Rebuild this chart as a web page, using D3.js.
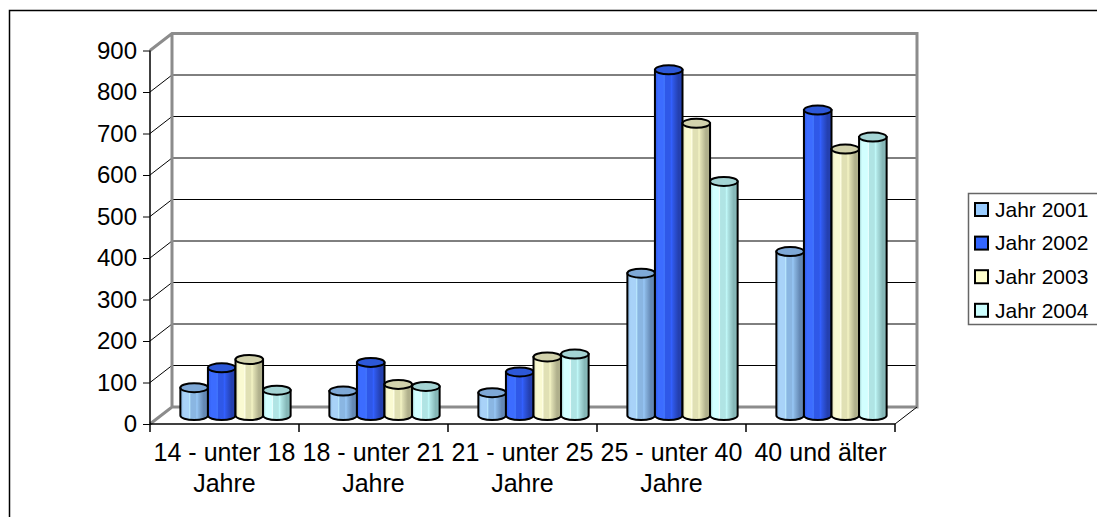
<!DOCTYPE html>
<html>
<head>
<meta charset="utf-8">
<script src="https://cdn.jsdelivr.net/npm/d3@7/dist/d3.min.js"></script>
<style>
  body { margin: 0; background: #fff; }
  svg text { font-family: "Liberation Sans", Arial, sans-serif; fill: #000; }
</style>
</head>
<body>
<div id="chart"></div>
<script>
let categories = [
    ["14 - unter 18", "Jahre"],
    ["18 - unter 21", "Jahre"],
    ["21 - unter 25", "Jahre"],
    ["25 - unter 40", "Jahre"],
    ["40 und älter"]
];
let series_names = ["Jahr 2001", "Jahr 2002", "Jahr 2003", "Jahr 2004"];
let jahr_2001 = [67, 59, 55, 343, 395];
let jahr_2002 = [115, 128, 105, 833, 736];
let jahr_2003 = [135, 75, 141, 704, 642];
let jahr_2004 = [61, 70, 148, 564, 671];
let y_ticks = [0, 100, 200, 300, 400, 500, 600, 700, 800, 900];

let all_values = [jahr_2001, jahr_2002, jahr_2003, jahr_2004];

// colors: [left light, mid, right dark, top]
let color_map = {
    "Jahr 2001": ["#a8d2f8", "#8ab6e2", "#6488b4", "#7ea8d6"],
    "Jahr 2002": ["#3c6cff", "#2f58e8", "#2440b0", "#2d58d8"],
    "Jahr 2003": ["#fafad2", "#e0e0b4", "#b0b08c", "#d2d2ac"],
    "Jahr 2004": ["#d2ffff", "#b0e4e4", "#86b8b8", "#a4d4d4"]
};
let legend_fill = {
    "Jahr 2001": "#99ccff",
    "Jahr 2002": "#3366ff",
    "Jahr 2003": "#ffffcc",
    "Jahr 2004": "#ccffff"
};

let width = 1097;
let height = 517;

let depth_x = 22;
let depth_y = 17;

let svg = d3.select("#chart")
    .append("svg")
    .attr("width", width)
    .attr("height", height);

// outer border
svg.append("rect")
    .attr("x", 9.5)
    .attr("y", 10.5)
    .attr("width", 1100)
    .attr("height", 520)
    .attr("fill", "#fff")
    .attr("stroke", "#000")
    .attr("stroke-width", 1.5);

let xScale = d3.scaleBand()
    .domain(d3.range(categories.length))
    .range([150, 895])
    .paddingInner(0)
    .paddingOuter(0);

let yScale = d3.scaleLinear()
    .domain([0, 900])
    .range([424, 50.5]);

let x_left = xScale.range()[0];
let x_right = xScale.range()[1];
let y_bottom = yScale(0);
let y_top = yScale(900);

let walls = svg.append("g");

// gridlines on back wall and side wall
for (let t of y_ticks) {
    if (t == 0 || t == 900) continue;
    walls.append("line")
        .attr("x1", x_left + depth_x)
        .attr("x2", x_right + depth_x)
        .attr("y1", yScale(t) - depth_y)
        .attr("y2", yScale(t) - depth_y)
        .attr("stroke", "#000")
        .attr("stroke-width", 1);
    walls.append("line")
        .attr("x1", x_left)
        .attr("x2", x_left + depth_x)
        .attr("y1", yScale(t))
        .attr("y2", yScale(t) - depth_y)
        .attr("stroke", "#000")
        .attr("stroke-width", 1);
}

// wall edges (gray)
let wall_edge = "M" + x_left + "," + y_top +
    " L" + (x_left + depth_x) + "," + (y_top - depth_y) +
    " L" + (x_right + depth_x) + "," + (y_top - depth_y) +
    " L" + (x_right + depth_x) + "," + (y_bottom - depth_y) +
    " L" + (x_left + depth_x) + "," + (y_bottom - depth_y) +
    " L" + x_left + "," + y_bottom +
    " M" + (x_left + depth_x) + "," + (y_top - depth_y) +
    " L" + (x_left + depth_x) + "," + (y_bottom - depth_y);
walls.append("path")
    .attr("d", wall_edge)
    .attr("fill", "none")
    .attr("stroke", "#8c8c8c")
    .attr("stroke-width", 3)
    .attr("stroke-linejoin", "miter");

// right floor edge
walls.append("line")
    .attr("x1", x_right)
    .attr("x2", x_right + depth_x)
    .attr("y1", y_bottom)
    .attr("y2", y_bottom - depth_y)
    .attr("stroke", "#000")
    .attr("stroke-width", 1);

// axes
let y_axis = svg.append("g")
    .attr("transform", "translate(" + x_left + ",0)")
    .call(d3.axisLeft(yScale).tickValues(y_ticks).tickSize(7).tickPadding(6).tickFormat(d3.format("d")));
y_axis.select(".domain").attr("stroke", "#000").attr("stroke-width", 1.5).attr("d", "M0," + y_top + "V" + y_bottom);
y_axis.selectAll("text")
    .style("font-family", "'Liberation Sans', Arial, sans-serif")
    .style("font-size", "24px");

let x_axis = svg.append("g")
    .attr("transform", "translate(0," + y_bottom + ")");
x_axis.append("line")
    .attr("x1", x_left)
    .attr("x2", x_right)
    .attr("stroke", "#000")
    .attr("stroke-width", 1.5);
x_axis.selectAll(".xtick")
    .data(d3.range(categories.length + 1))
    .enter()
    .append("line")
    .attr("class", "xtick")
    .attr("x1", function(d) { return x_left + d * xScale.bandwidth(); })
    .attr("x2", function(d) { return x_left + d * xScale.bandwidth(); })
    .attr("y1", 0)
    .attr("y2", 8)
    .attr("stroke", "#000")
    .attr("stroke-width", 1.5);

let x_labels = x_axis.selectAll(".xlabel")
    .data(categories)
    .enter()
    .append("text")
    .attr("class", "xlabel")
    .attr("text-anchor", "middle")
    .style("font-size", "25px");
x_labels.selectAll("tspan")
    .data(function(d, i) { return d.map(function(s) { return { text: s, i: i }; }); })
    .enter()
    .append("tspan")
    .attr("x", function(d) { return xScale(d.i) + xScale.bandwidth() / 2; })
    .attr("y", function(d, j) { return 37 + j * 30.5; })
    .text(function(d) { return d.text; });

// gradients
let defs = svg.append("defs");
for (let name of series_names) {
    let c = color_map[name];
    let grad = defs.append("linearGradient")
        .attr("id", "grad_" + name.replace(" ", "_"))
        .attr("x1", "0%").attr("x2", "100%")
        .attr("y1", "0%").attr("y2", "0%");
    let stops = [[0, c[1]], [0.12, c[0]], [0.3, c[0]], [0.34, d3.color(c[0]).brighter(0.3)], [0.38, c[1]], [0.55, c[1]], [0.6, d3.color(c[1]).brighter(0.25)], [0.65, c[1]], [0.85, c[2]], [1, c[2]]];
    for (let s of stops) {
        grad.append("stop")
            .attr("offset", s[0])
            .attr("stop-color", s[1]);
    }
}

// cylinders
let group_frac = 0.74;
let seriesScale = d3.scaleBand()
    .domain(series_names)
    .range([0, xScale.bandwidth() * group_frac]);

let cyl_data = [];
for (let i = 0; i < categories.length; i++) {
    for (let k = 0; k < series_names.length; k++) {
        cyl_data.push({
            "cat": i,
            "series": series_names[k],
            "value": all_values[k][i]
        });
    }
}

let ry = 4.5;
let chart = svg.append("g");
let cyl = chart.selectAll(".cyl")
    .data(cyl_data)
    .enter()
    .append("g")
    .attr("class", "cyl");

function cyl_left(d) {
    return xScale(d.cat) + xScale.bandwidth() * (1 - group_frac) / 2 + depth_x / 2 + seriesScale(d.series);
}

cyl.append("path")
    .attr("d", function(d) {
        let l = cyl_left(d);
        let w = seriesScale.bandwidth();
        let r = l + w;
        let yt = yScale(d.value) - depth_y / 2;
        let yb = yScale(0) - depth_y / 2;
        return "M" + l + "," + yt + " L" + l + "," + yb +
            " A" + (w / 2) + "," + ry + " 0 0 0 " + r + "," + yb +
            " L" + r + "," + yt + " Z";
    })
    .attr("fill", function(d) { return "url(#grad_" + d.series.replace(" ", "_") + ")"; })
    .attr("stroke", "#000")
    .attr("stroke-width", 2);

cyl.append("ellipse")
    .attr("cx", function(d) { return cyl_left(d) + seriesScale.bandwidth() / 2; })
    .attr("cy", function(d) { return yScale(d.value) - depth_y / 2; })
    .attr("rx", seriesScale.bandwidth() / 2)
    .attr("ry", ry)
    .attr("fill", function(d) { return color_map[d.series][3]; })
    .attr("stroke", "#000")
    .attr("stroke-width", 2);

// legend
let legend_g = svg.append("g");
legend_g.append("rect")
    .attr("x", 968.5)
    .attr("y", 193.5)
    .attr("width", 140)
    .attr("height", 131)
    .attr("fill", "#fff")
    .attr("stroke", "#666")
    .attr("stroke-width", 1.5);

let legend = legend_g.selectAll(".legend")
    .data(series_names)
    .enter()
    .append("g")
    .attr("class", "legend")
    .attr("transform", function(d, i) { return "translate(975," + (209.5 + i * 33.6) + ")"; });

legend.append("rect")
    .attr("x", 0)
    .attr("y", -6.5)
    .attr("width", 13)
    .attr("height", 13)
    .attr("fill", function(d) { return legend_fill[d]; })
    .attr("stroke", "#000")
    .attr("stroke-width", 2);

legend.append("text")
    .attr("x", 20)
    .attr("y", 0)
    .attr("dy", ".35em")
    .style("font-size", "21px")
    .text(function(d) { return d; });
</script>
</body>
</html>
